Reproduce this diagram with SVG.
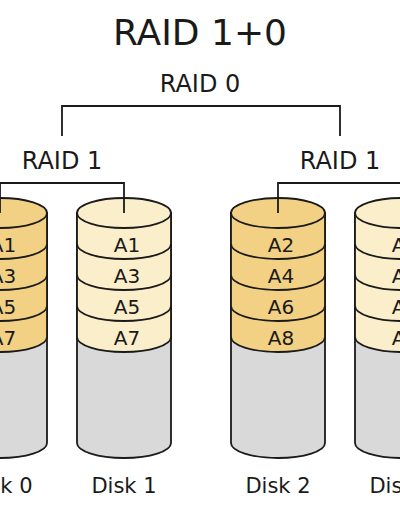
<svg xmlns="http://www.w3.org/2000/svg" width="400" height="516" viewBox="0 0 400 516">
<style>
text{font-family:"DejaVu Sans","Liberation Sans",sans-serif;fill:#1a1a1a;text-anchor:middle}
.t{font-size:36px}
.h{font-size:24px}
.d{font-size:21px}
.b{font-size:20px}
.ln{fill:none;stroke:#1a1a1a;stroke-width:1.8}
.s{stroke:#1a1a1a;stroke-width:1.8}
.gray{fill:#d9d9d9}
.gold{fill:#f2d184}
.light{fill:#fbefcb}
</style>
<defs>
<path id="body" d="M-47,213 V443 A47,15 0 0 0 47,443 V213 Z"/>
<path id="stack" d="M-47,213 V337 A47,15 0 0 0 47,337 V213 Z"/>
<ellipse id="top" cx="0" cy="213" rx="47" ry="15"/>
<path id="arcs" d="M-47,244 A47,15 0 0 0 47,244 M-47,275 A47,15 0 0 0 47,275 M-47,306 A47,15 0 0 0 47,306"/>
</defs>
<text class="t" x="200" y="45">RAID 1+0</text>
<text class="h" x="200" y="92">RAID 0</text>
<text class="h" x="62" y="169">RAID 1</text>
<text class="h" x="340" y="169">RAID 1</text>
<g id="disk0" transform="translate(0,0)">
<use href="#body" class="gray s"/>
<use href="#stack" class="gold s"/>
<use href="#top" class="gold s"/>
<use href="#arcs" class="ln"/>
<text class="b" x="3" y="252">A1</text>
<text class="b" x="3" y="283">A3</text>
<text class="b" x="3" y="314">A5</text>
<text class="b" x="3" y="345">A7</text>
<text class="d" x="0" y="493">Disk 0</text>
</g>
<g id="disk1" transform="translate(124,0)">
<use href="#body" class="gray s"/>
<use href="#stack" class="light s"/>
<use href="#top" class="light s"/>
<use href="#arcs" class="ln"/>
<text class="b" x="3" y="252">A1</text>
<text class="b" x="3" y="283">A3</text>
<text class="b" x="3" y="314">A5</text>
<text class="b" x="3" y="345">A7</text>
<text class="d" x="0" y="493">Disk 1</text>
</g>
<g id="disk2" transform="translate(278,0)">
<use href="#body" class="gray s"/>
<use href="#stack" class="gold s"/>
<use href="#top" class="gold s"/>
<use href="#arcs" class="ln"/>
<text class="b" x="3" y="252">A2</text>
<text class="b" x="3" y="283">A4</text>
<text class="b" x="3" y="314">A6</text>
<text class="b" x="3" y="345">A8</text>
<text class="d" x="0" y="493">Disk 2</text>
</g>
<g id="disk3" transform="translate(402,0)">
<use href="#body" class="gray s"/>
<use href="#stack" class="light s"/>
<use href="#top" class="light s"/>
<use href="#arcs" class="ln"/>
<text class="b" x="3" y="252">A2</text>
<text class="b" x="3" y="283">A4</text>
<text class="b" x="3" y="314">A6</text>
<text class="b" x="3" y="345">A8</text>
<text class="d" x="0" y="493">Disk 3</text>
</g>
<g id="connectors">
<path class="ln" d="M62,136 V106 H340 V136"/>
<path class="ln" d="M0,213 V183 H124 V213"/>
<path class="ln" d="M278,213 V183 H402 V213"/>
</g>
</svg>
